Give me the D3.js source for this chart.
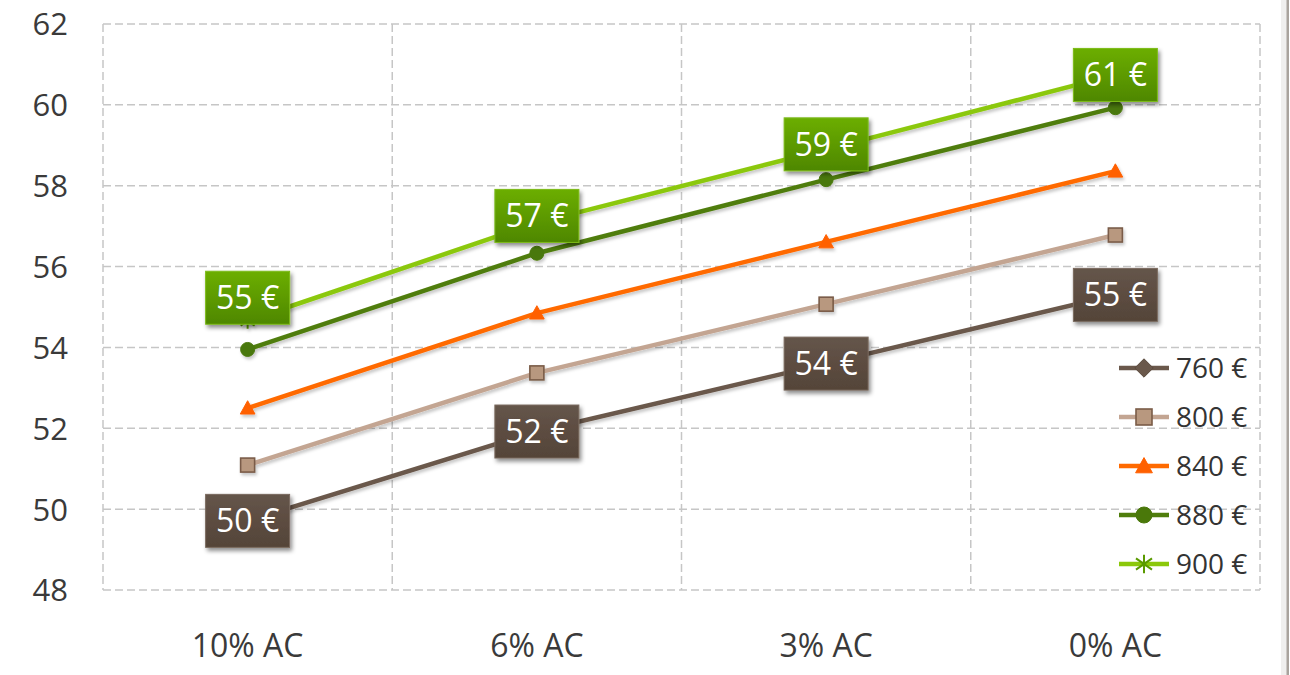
<!DOCTYPE html>
<html>
<head>
<meta charset="utf-8">
<script src="https://cdn.jsdelivr.net/npm/d3@7"></script>
<style>
  html, body { margin: 0; padding: 0; background: #ffffff; }
  svg { display: block; font-family: "Open Sans", "Noto Sans", sans-serif; }
</style>
</head>
<body>
<svg id="chart" width="1290" height="675"></svg>
<script>
// ---- data ----
const categories = ["10% AC", "6% AC", "3% AC", "0% AC"];
const seriesNames = ["760 €", "800 €", "840 €", "880 €", "900 €"];
const values760 = [49.71, 51.92, 53.60, 55.30];
const values800 = [51.09, 53.37, 55.07, 56.78];
const values840 = [52.50, 54.85, 56.61, 58.36];
const values880 = [53.95, 56.33, 58.15, 59.93];
const values900 = [54.66, 57.08, 58.90, 60.74];
const yTicks = [48, 50, 52, 54, 56, 58, 60, 62];

(function () {
const series = [
  { name: seriesNames[0], values: values760, color: "#6a584b", marker: "diamond", mFill: "#6a584b", mStroke: "#5a4a3e", labels: true, boxTop: "#65554a", boxBot: "#544438", boxStroke: "#7a6a5e" },
  { name: seriesNames[1], values: values800, color: "#c3a592", marker: "square", mFill: "#b8987f", mStroke: "#7a5c48", labels: false },
  { name: seriesNames[2], values: values840, color: "#ff6a00", marker: "triangle", mFill: "#ff6000", mStroke: "#ff6000", labels: false },
  { name: seriesNames[3], values: values880, color: "#4f7d0c", marker: "circle", mFill: "#4a780a", mStroke: "#4a780a", labels: false },
  { name: seriesNames[4], values: values900, color: "#8bc80a", marker: "star", mFill: "none", mStroke: "#5a9a00", labels: true, boxTop: "#6cae00", boxBot: "#4e8700", boxStroke: "#7dbb1a" }
];

// style-only nudges for data labels (vertical, px)
const labelNudge = { "900 €": [-23, -7, -5, 0], "760 €": [0, 0, 0, 0] };

const svg = d3.select("#chart");
const W = 1290, H = 675;
const pLeft = 103, pRight = 1260, pTop = 24, pBottom = 590;

const x = d3.scaleBand().domain(categories).range([pLeft, pRight]).padding(0);
const xc = c => x(c) + x.bandwidth() / 2;
const y = d3.scaleLinear().domain([48, 62]).range([pBottom, pTop]);

// defs
const defs = svg.append("defs");
const sh = defs.append("filter").attr("id", "lineShadow").attr("x", "-10%").attr("y", "-50%").attr("width", "120%").attr("height", "200%");
sh.append("feDropShadow").attr("dx", 1.5).attr("dy", 2.5).attr("stdDeviation", 1.8).attr("flood-color", "#000").attr("flood-opacity", 0.22);
const bsh = defs.append("filter").attr("id", "boxShadow").attr("x", "-20%").attr("y", "-20%").attr("width", "150%").attr("height", "160%");
bsh.append("feDropShadow").attr("dx", 2).attr("dy", 3).attr("stdDeviation", 2).attr("flood-color", "#000").attr("flood-opacity", 0.45);
series.filter(s => s.labels).forEach((s, i) => {
  const g = defs.append("linearGradient").attr("id", "grad" + i).attr("x1", 0).attr("y1", 0).attr("x2", 0).attr("y2", 1);
  g.append("stop").attr("offset", "0%").attr("stop-color", s.boxTop);
  g.append("stop").attr("offset", "100%").attr("stop-color", s.boxBot);
  s.gradId = "grad" + i;
});

// right edge slide border
svg.append("rect").attr("x", 1281).attr("y", 0).attr("width", 6).attr("height", H).attr("fill", "#f0efee");
svg.append("rect").attr("x", 1286.5).attr("y", 0).attr("width", 2.5).attr("height", H).attr("fill", "#a9a39d");

// gridlines
const grid = svg.append("g").attr("stroke", "#c6c6c6").attr("stroke-width", 1.5).attr("stroke-dasharray", "8,4").attr("fill", "none");
yTicks.forEach(t => {
  grid.append("line").attr("x1", pLeft).attr("x2", pRight).attr("y1", y(t)).attr("y2", y(t));
});
const vlines = categories.map(c => x(c)).concat([pRight]);
vlines.forEach(v => {
  grid.append("line").attr("x1", v).attr("x2", v).attr("y1", pTop).attr("y2", pBottom);
});

// y axis labels
const yAxis = d3.axisLeft(y).tickValues(yTicks).tickSize(0).tickPadding(0);
const yg = svg.append("g").attr("transform", `translate(68,0)`).call(yAxis);
yg.select(".domain").remove();
yg.selectAll("text").attr("font-size", 31).attr("fill", "#3a3a3a").attr("font-family", '"Open Sans", sans-serif').attr("dy", "0.35em");

// x axis labels
const xAxis = d3.axisBottom(x).tickSize(0).tickPadding(0);
const xg = svg.append("g").attr("transform", `translate(0,634)`).call(xAxis);
xg.select(".domain").remove();
xg.selectAll("text").attr("font-size", 32).attr("fill", "#3a3a3a").attr("font-family", '"Open Sans", sans-serif').attr("dy", "0.71em");

// markers
function drawMarker(g, type, cx, cy, s, size) {
  const r = size / 2;
  if (type === "diamond") {
    g.append("path").attr("d", `M${cx},${cy - r * 1.15}L${cx + r * 1.15},${cy}L${cx},${cy + r * 1.15}L${cx - r * 1.15},${cy}Z`)
      .attr("fill", s.mFill).attr("stroke", s.mStroke).attr("stroke-width", 1);
  } else if (type === "square") {
    g.append("rect").attr("x", cx - r).attr("y", cy - r).attr("width", size).attr("height", size)
      .attr("fill", s.mFill).attr("stroke", s.mStroke).attr("stroke-width", 1.6);
  } else if (type === "triangle") {
    g.append("path").attr("d", `M${cx},${cy - r * 1.05}L${cx + r * 1.05},${cy + r * 0.85}L${cx - r * 1.05},${cy + r * 0.85}Z`)
      .attr("fill", s.mFill).attr("stroke", s.mStroke).attr("stroke-width", 1);
  } else if (type === "circle") {
    g.append("circle").attr("cx", cx).attr("cy", cy).attr("r", r).attr("fill", s.mFill).attr("stroke", s.mStroke).attr("stroke-width", 1);
  } else if (type === "star") {
    const a = r * 1.15, d = a * 0.87;
    g.append("path").attr("d", `M${cx},${cy - a}L${cx},${cy + a}M${cx - d},${cy - d * 0.7}L${cx + d},${cy + d * 0.7}M${cx - d},${cy + d * 0.7}L${cx + d},${cy - d * 0.7}`)
      .attr("stroke", s.mStroke).attr("stroke-width", 2).attr("fill", "none");
  }
}

const line = d3.line().x((d, i) => xc(categories[i])).y(d => y(d));
const plot = svg.append("g");
series.forEach(s => {
  const g = plot.append("g").attr("filter", "url(#lineShadow)");
  g.append("path").datum(s.values).attr("d", line).attr("fill", "none").attr("stroke", s.color).attr("stroke-width", 4.5).attr("stroke-linejoin", "round");
  s.values.forEach((v, i) => drawMarker(g, s.marker, xc(categories[i]), y(v), s, 14));
});

// data labels
const boxW = 84, boxH = 53;
series.filter(s => s.labels).forEach(s => {
  s.values.forEach((v, i) => {
    const cx = xc(categories[i]);
    const cy = y(v) + (labelNudge[s.name] ? labelNudge[s.name][i] : 0);
    const g = svg.append("g");
    g.append("rect").attr("x", cx - boxW / 2).attr("y", cy - boxH / 2).attr("width", boxW).attr("height", boxH)
      .attr("fill", `url(#${s.gradId})`).attr("stroke", s.boxStroke).attr("stroke-width", 1).attr("filter", "url(#boxShadow)");
    g.append("text").attr("x", cx).attr("y", cy).attr("dy", "0.36em").attr("text-anchor", "middle")
      .attr("font-size", 32).attr("fill", "#ffffff").text(Math.round(v) + " €");
  });
});

// legend
const legendY0 = 368, legendStep = 49;
series.forEach((s, i) => {
  const ly = legendY0 + i * legendStep;
  const g = svg.append("g");
  g.append("line").attr("x1", 1119).attr("x2", 1169).attr("y1", ly).attr("y2", ly).attr("stroke", s.color).attr("stroke-width", 4.5);
  drawMarker(g, s.marker, 1144, ly, s, 16);
  g.append("text").attr("x", 1176).attr("y", ly).attr("dy", "0.36em").attr("font-size", 28).attr("fill", "#333333").text(s.name);
});
})();
</script>
</body>
</html>
